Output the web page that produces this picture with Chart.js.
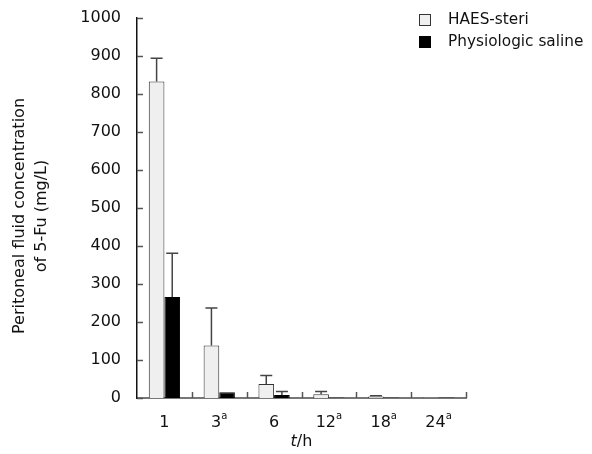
<!DOCTYPE html>
<html><head><meta charset="utf-8">
<script src="https://cdn.jsdelivr.net/npm/chart.js@4/dist/chart.umd.min.js"></script>
<style>html,body{margin:0;padding:0;background:#fff}#wrap{width:592px;height:454px}</style>
</head><body><div id="wrap"><canvas id="c" width="592" height="454"></canvas></div>
<script>
const categories = ['1', '3', '6', '12', '18', '24'];
const categorySup = ['', 'a', '', 'a', 'a', 'a'];
const haesValues = [833, 138, 37, 10, 4, 1];
const haesSD = [61, 99, 22, 7, 2, 0];
const salineValues = [266, 15, 8, 1, 1, 1];
const salineSD = [115, 0, 9, 0, 0, 0];
const yTicks = [0, 100, 200, 300, 400, 500, 600, 700, 800, 900, 1000];
const seriesNames = ['HAES-steri', 'Physiologic saline'];
const yTitleLines = ['Peritoneal fluid concentration', 'of 5-Fu (mg/L)'];

const FONT = '"DejaVu Sans", sans-serif';

const extras = {
  id: 'extras',
  afterDatasetsDraw(chart) {
    const ctx = chart.ctx, x = chart.scales.x, y = chart.scales.y, ca = chart.chartArea;
    ctx.save();
    // error bars
    const sds = [haesSD, salineSD];
    chart.data.datasets.forEach((ds, di) => {
      const meta = chart.getDatasetMeta(di);
      meta.data.forEach((bar, i) => {
        const sd = sds[di][i];
        if (!sd) return;
        const top = y.getPixelForValue(ds.data[i]);
        const et = y.getPixelForValue(ds.data[i] + sd);
        ctx.strokeStyle = '#444'; ctx.lineWidth = 1.5;
        ctx.beginPath();
        ctx.moveTo(bar.x, top); ctx.lineTo(bar.x, et);
        ctx.moveTo(bar.x - 6, et); ctx.lineTo(bar.x + 6, et);
        ctx.stroke();
      });
    });
    // inward ticks y
    ctx.strokeStyle = '#555'; ctx.lineWidth = 1.5;
    yTicks.forEach(v => {
      const py = Math.round(y.getPixelForValue(v)) + 0.5;
      ctx.beginPath(); ctx.moveTo(ca.left, py); ctx.lineTo(ca.left + 6, py); ctx.stroke();
    });
    // inward ticks x at category boundaries
    const w = (ca.right - ca.left) / categories.length;
    for (let i = 1; i <= categories.length; i++) {
      const px = Math.round(ca.left + w * i) + 0.5;
      ctx.beginPath(); ctx.moveTo(px, ca.bottom); ctx.lineTo(px, ca.bottom - 6); ctx.stroke();
    }
    ctx.fillStyle = '#111';
    ctx.textBaseline = 'alphabetic';
    // x tick labels with superscripts
    categories.forEach((c, i) => {
      const px = x.getPixelForValue(i);
      ctx.font = '16px ' + FONT;
      const mw = ctx.measureText(c).width;
      ctx.font = '10px ' + FONT;
      const sw = categorySup[i] ? ctx.measureText(categorySup[i]).width : 0;
      const sx = px - (mw + sw) / 2;
      ctx.textAlign = 'left';
      ctx.font = '16px ' + FONT;
      ctx.fillText(c, sx, 427);
      if (categorySup[i]) {
        ctx.font = '10px ' + FONT;
        ctx.fillText(categorySup[i], sx + mw, 419);
      }
    });
    // x title
    ctx.font = 'italic 16px ' + FONT;
    const t1 = 't', t2 = '/h';
    const w1 = ctx.measureText(t1).width;
    ctx.font = '16px ' + FONT;
    const w2 = ctx.measureText(t2).width;
    const cx = (ca.left + ca.right) / 2;
    const sx = cx - (w1 + w2) / 2;
    ctx.textAlign = 'left';
    ctx.font = 'italic 16px ' + FONT;
    ctx.fillText(t1, sx, 446);
    ctx.font = '16px ' + FONT;
    ctx.fillText(t2, sx + w1, 446);
    // y title
    ctx.save();
    ctx.translate(26, 216);
    ctx.rotate(-Math.PI / 2);
    ctx.textAlign = 'center';
    ctx.textBaseline = 'middle';
    ctx.font = '16px ' + FONT;
    ctx.fillText(yTitleLines[0], 0, -6);
    ctx.fillText(yTitleLines[1], 0, 16);
    ctx.restore();
    // legend
    const colors = [['#eeefee', '#333'], ['#000', '#000']];
    ctx.textBaseline = 'middle';
    seriesNames.forEach((n, i) => {
      const ly = 20 + i * 22;
      ctx.fillStyle = colors[i][0]; ctx.strokeStyle = colors[i][1]; ctx.lineWidth = 1;
      ctx.fillRect(419.5, ly - 5.5, 11, 11);
      ctx.strokeRect(419.5, ly - 5.5, 11, 11);
      ctx.fillStyle = '#111'; ctx.textAlign = 'left';
      ctx.font = '15.3px ' + FONT;
      ctx.fillText(n, 448, ly);
    });
    ctx.restore();
  }
};

new Chart(document.getElementById('c'), {
  type: 'bar',
  data: {
    labels: categories,
    datasets: [
      { label: seriesNames[0], data: haesValues, backgroundColor: '#eeefee', borderColor: '#333', borderWidth: 1 },
      { label: seriesNames[1], data: salineValues, backgroundColor: '#000', borderColor: '#000', borderWidth: 1 }
    ]
  },
  options: {
    responsive: false,
    animation: false,
    layout: { padding: { top: 18, right: 126, left: 0, bottom: 0 } },
    plugins: { legend: { display: false }, tooltip: { enabled: false } },
    datasets: { bar: { categoryPercentage: 0.57, barPercentage: 1 } },
    scales: {
      x: {
        grid: { display: false },
        border: { color: '#777', width: 2 },
        ticks: { display: false },
        afterFit(s) { s.height = 56; s.paddingLeft = 0; s.paddingRight = 0; }
      },
      y: {
        min: 0, max: 1000,
        afterBuildTicks(s) { s.ticks = yTicks.map(v => ({ value: v })); },
        grid: { display: false, drawTicks: false },
        border: { color: '#111', width: 1.5 },
        ticks: { color: '#111', font: { family: FONT, size: 16 }, padding: 16, callback: v => String(v) },
        afterFit(s) { s.width = 137; s.paddingTop = 0; s.paddingBottom = 0; }
      }
    }
  },
  plugins: [extras]
});
</script></body></html>
